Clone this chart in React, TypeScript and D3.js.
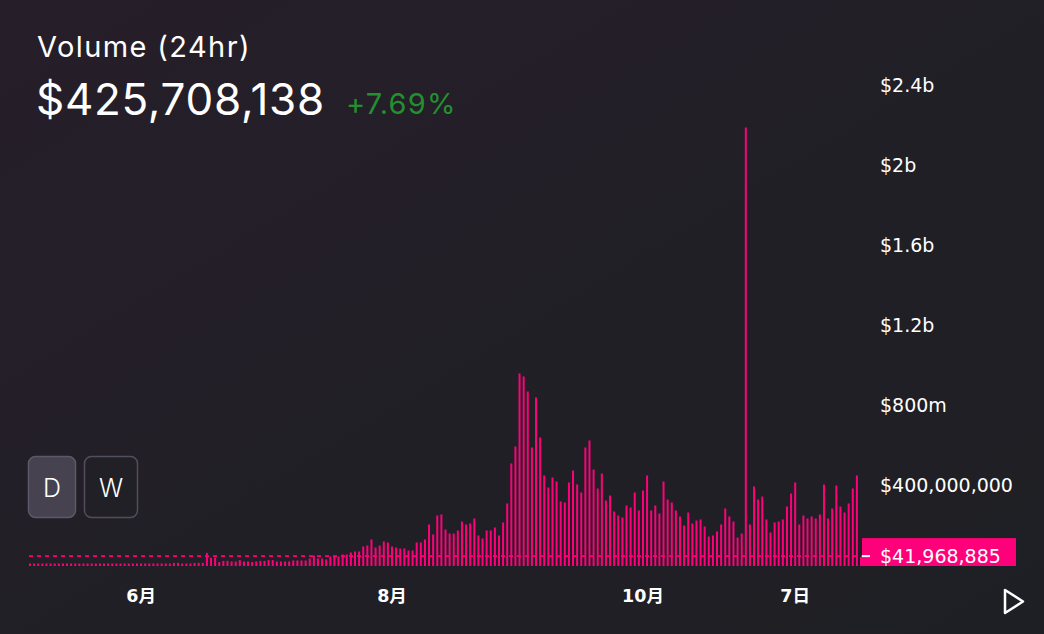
import React from 'react';
import * as d3 from 'd3';

// ---- data ----
const startDate = '2022-05-05';
// daily volume, millions of USD
const volumes: number[] = [
  10, 10, 10, 10, 10, 10, 10, 10, 10, 10, 10, 10, 10, 10, 10, 10, 10, 10, 10, 10, 10, 10, 10, 10, 10, 10, 10, 10, 10, 10, 10, 10, 10,
  10, 10, 13, 13, 10, 10, 10, 13, 13, 13, 63, 38, 38, 17, 23, 23, 20, 20, 27, 20, 20, 17, 20, 23, 23, 27, 27, 20,
  20, 20, 20, 25, 25, 25, 25, 35, 50, 35, 35, 30, 45, 45, 45, 55, 55, 65, 70, 70, 95, 100, 130, 90, 100, 120, 115, 95, 90, 85,
  85, 75, 75, 115, 115, 130, 205, 155, 250, 255, 180, 160, 160, 175, 220, 205, 210, 235, 150, 135, 175, 175, 190, 150, 215,
  310, 510, 595, 960, 945, 870,
  590, 840, 640, 450, 390, 440, 420, 320, 315, 415, 475, 405, 365, 590, 625, 480, 385, 460, 325, 350, 270, 250, 240, 300, 290,
  365, 275, 375, 450, 275, 300, 260, 420, 330, 315, 275, 245, 200, 265, 210, 225, 230, 195, 145, 150, 170, 205, 285, 245, 220,
  140, 160,
  2190, 205, 395, 330, 345, 230, 165, 215, 220, 230, 295, 360, 415, 205, 250, 235, 245, 235, 255, 405, 235, 285, 400, 295, 265,
  310, 385, 450, 42,
];
const yTickValues = [400, 800, 1200, 1600, 2000, 2400];
const yTickLabels = ['$400,000,000', '$800m', '$1.2b', '$1.6b', '$2b', '$2.4b'];
const xTickDates = ['2022-06-01', '2022-08-01', '2022-10-01', '2022-11-07'];
const xTickLabels = ['6月', '8月', '10月', '7日'];
const currentValue = 41.968885;
const currentLabel = '$41,968,885';
const titleText = 'Volume (24hr)';
const headlineText = '$425,708,138';
const changeText = '+7.69%';
const buttons = ['D', 'W'];

const W = 1044;
const H = 634;
const PINK = '#ff007a';

export default function App() {
  const parse = d3.timeParse('%Y-%m-%d');
  const start = parse(startDate) as Date;
  const dates = volumes.map((_, i) => d3.timeDay.offset(start, i));
  const x = d3
    .scaleTime()
    .domain([dates[0], dates[dates.length - 1]])
    .range([29, 860]);
  const y = d3.scaleLinear().domain([0, 2400]).range([565.5, 85.5]);
  const base = 566;
  const yc = y(currentValue);
  const sans = 'Inter, "Noto Sans", sans-serif';
  const axisFont = '"DejaVu Sans", "Noto Sans CJK SC", sans-serif';

  return (
    <svg
      width={W}
      height={H}
      style={{ position: 'absolute', left: 0, top: 0, display: 'block' }}
    >
      <defs>
        <linearGradient id="bg" x1="0" y1="0" x2="1" y2="1">
          <stop offset="0" stopColor="#261e29" />
          <stop offset="0.45" stopColor="#221f27" />
          <stop offset="1" stopColor="#1e1f24" />
        </linearGradient>
        <clipPath id="plotclip">
          <rect x={0} y={0} width={W} height={base} />
        </clipPath>
      </defs>
      <rect x={0} y={0} width={W} height={H} fill="url(#bg)" />

      {/* header */}
      <text x={37} y={57} fill="#fff" fontFamily={sans} fontSize={29} letterSpacing={1.4}>
        {titleText}
      </text>
      <text x={36} y={115} fill="#fff" fontFamily={sans} fontSize={44} letterSpacing={0.7}>
        {headlineText}
      </text>
      <text x={346} y={114} fill="#23902f" fontFamily={sans} fontSize={29} letterSpacing={1.2}>
        {changeText}
      </text>

      {/* y tick labels */}
      {yTickValues.map((v, i) => (
        <text
          key={v}
          x={880}
          y={y(v)}
          dy="0.36em"
          fill="#fff"
          fontFamily={axisFont}
          fontSize={19}
        >
          {yTickLabels[i]}
        </text>
      ))}

      {/* current value dashed line */}
      <line
        x1={29}
        x2={862}
        y1={yc - 1}
        y2={yc - 1}
        stroke={PINK}
        strokeWidth={1.6}
        strokeDasharray="4 4"
      />

      {/* bars */}
      <g clipPath="url(#plotclip)">
        {volumes.map((v, i) => (
          <rect
            key={i}
            x={x(dates[i])}
            y={y(v)}
            width={2}
            height={Math.max(0, base - y(v))}
            fill={PINK}
          />
        ))}
        {/* current value label */}
        <rect x={862} y={yc - 19} width={154} height={40} fill={PINK} />
        <line x1={862} x2={870} y1={yc - 1} y2={yc - 1} stroke="#fff" strokeWidth={2} />
        <text
          x={880}
          y={yc}
          dy="0.33em"
          fill="#fff"
          fontFamily={axisFont}
          fontSize={19}
        >
          {currentLabel}
        </text>
      </g>

      {/* x tick labels */}
      {xTickDates.map((d, i) => (
        <text
          key={d}
          x={x(parse(d) as Date) + 1}
          y={602}
          textAnchor="middle"
          fill="#fff"
          fontFamily={axisFont}
          fontWeight="bold"
          fontSize={17.5}
        >
          {xTickLabels[i]}
        </text>
      ))}

      {/* buttons */}
      <rect x={28.5} y={456.5} width={47} height={61} rx={7} fill="#46424f" stroke="#5d586a" strokeWidth={1.5} />
      <text x={52} y={497} textAnchor="middle" fill="#fff" fontFamily={sans} fontSize={25} fontWeight={300}>
        {buttons[0]}
      </text>
      <rect x={84.5} y={456.5} width={53} height={61} rx={7} fill="#212027" stroke="#524e5d" strokeWidth={1.5} />
      <text x={111} y={497} textAnchor="middle" fill="#fff" fontFamily={sans} fontSize={25} fontWeight={300}>
        {buttons[1]}
      </text>

      {/* play button */}
      <path d="M1005,590 L1005,613 L1023,601.5 Z" fill="none" stroke="#fff" strokeWidth={2.5} strokeLinejoin="round" />
    </svg>
  );
}
